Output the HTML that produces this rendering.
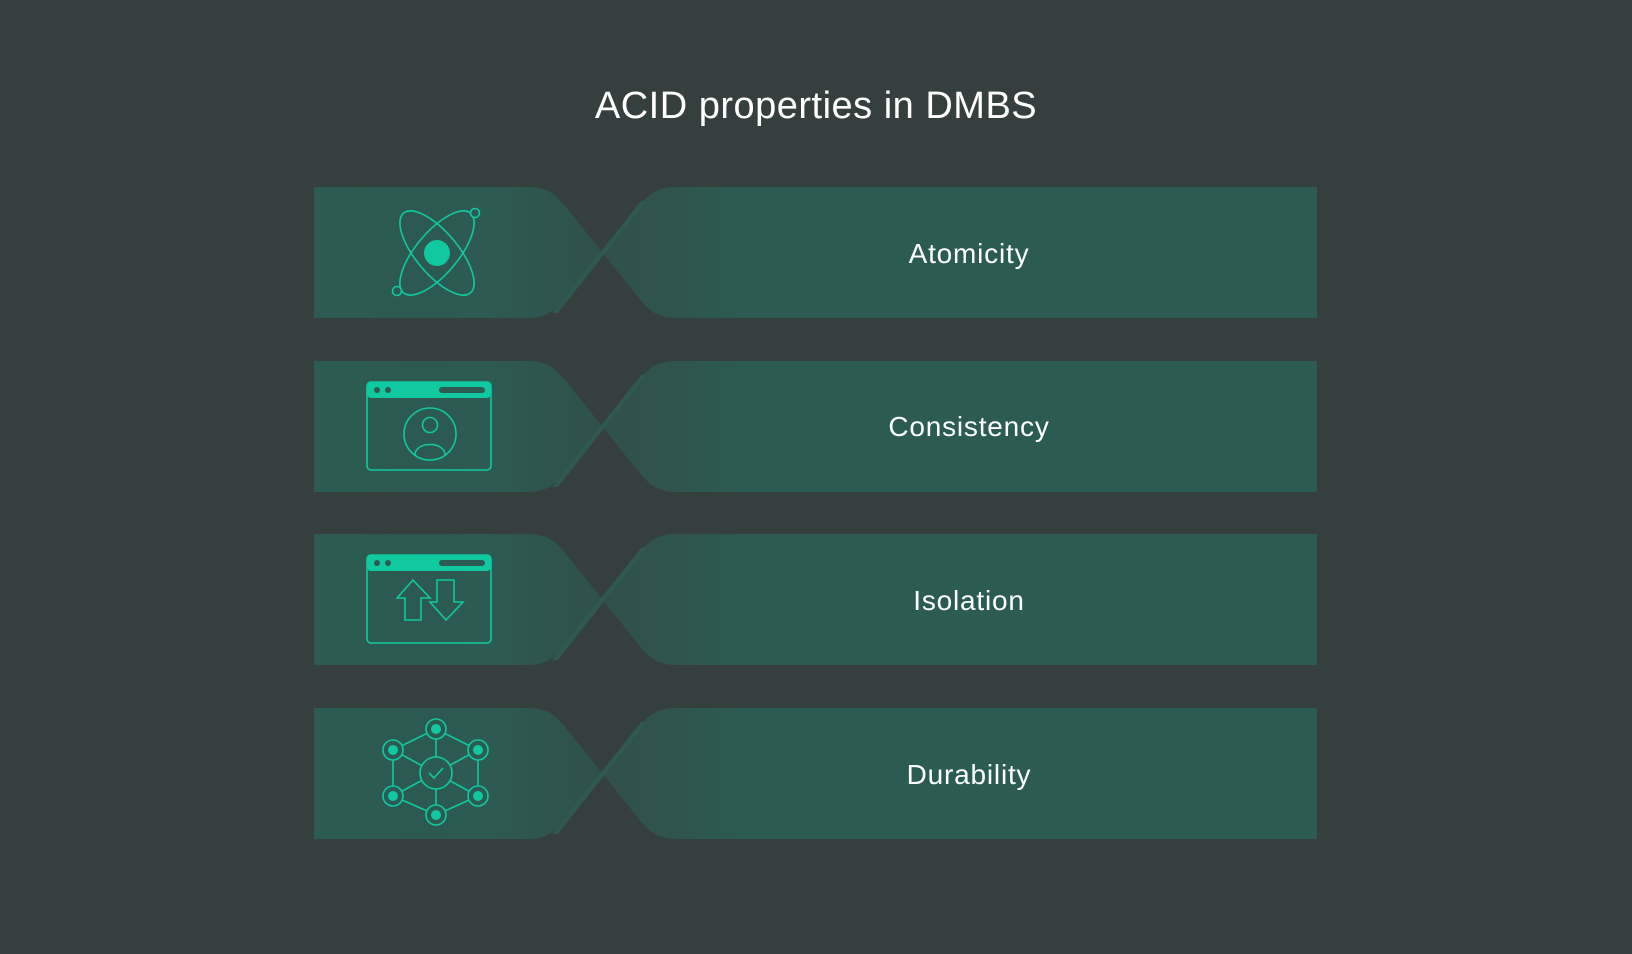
<!DOCTYPE html>
<html><head><meta charset="utf-8"><style>
html,body{margin:0;padding:0;background:#353f3d;}
svg{display:block}
text{font-family:"Liberation Sans",sans-serif;}
</style></head><body>
<svg width="1632" height="954" viewBox="0 0 1632 954" xmlns="http://www.w3.org/2000/svg">
<defs>
<linearGradient id="gl" x1="0" x2="1" y1="0" y2="0">
<stop offset="0" stop-color="#2b5b52"/><stop offset="0.6" stop-color="#2d5a52"/><stop offset="1" stop-color="#30504b"/>
</linearGradient>
<linearGradient id="gr" gradientUnits="userSpaceOnUse" x1="600" x2="740" y1="0" y2="0">
<stop offset="0" stop-color="#32504b"/><stop offset="0.55" stop-color="#2f554e"/><stop offset="1" stop-color="#2b5b52"/>
</linearGradient>
<g id="band">
<path d="M314,0 H528 C548,0 556,8 566,20 L602,65 L566,110 C556,122 548,131 528,131 H314 Z" fill="url(#gl)"/>
<path d="M602,65 L638,20 C648,8 656,0 676,0 H1317 V131 H676 C656,131 648,122 638,110 Z" fill="url(#gr)"/>
<path d="M552,126 L641,14 L646,14 L558,126 Z" fill="#2f5c53" opacity="0.85"/>
</g>
</defs>
<text x="816" y="118" font-size="38" fill="#ffffff" text-anchor="middle" letter-spacing="0.5">ACID properties in DMBS</text>

<use href="#band" y="187"/>
<use href="#band" y="361"/>
<use href="#band" y="534"/>
<use href="#band" y="708"/>

<g fill="#ffffff" font-size="28" text-anchor="middle" letter-spacing="0.8">
<text x="969" y="263">Atomicity</text>
<text x="969" y="436">Consistency</text>
<text x="969" y="610">Isolation</text>
<text x="969" y="784">Durability</text>
</g>

<g stroke="#10c9a0" stroke-width="1.6" fill="none">
<ellipse cx="437" cy="253" rx="52" ry="21" transform="rotate(50 437 253)"/>
<ellipse cx="437" cy="253" rx="52" ry="21" transform="rotate(-50 437 253)"/>
<circle cx="475" cy="213" r="4.5" fill="#2b5b52"/>
<circle cx="397" cy="291" r="4.5" fill="#2b5b52"/>
<rect x="367" y="382" width="124" height="88" rx="4"/>
<circle cx="430" cy="434" r="26"/>
<circle cx="430" cy="425" r="7.5"/>
<path d="M415,455 C415,441 445,441 445,455"/>
<rect x="367" y="555" width="124" height="88" rx="4"/>
<path d="M397,598 L413,580 L430,598 H421 V620 H405 V598 Z"/>
<path d="M437,580 H454 V602 H463 L446,620 L430,602 H437 Z"/>
<path d="M436,729 L393,750 L393,796 L436,815 L478,796 L478,750 Z"/>
<path d="M436,729 V815 M393,750 L478,796 M478,750 L393,796"/>
<circle cx="436" cy="773" r="16" fill="#2b5b52"/>
<path d="M429,773 L434,778 L443,768"/>
</g>
<g fill="#10c9a0">
<circle cx="437" cy="253" r="13"/>
<rect x="367" y="382" width="124" height="16" rx="4"/>
<rect x="367" y="555" width="124" height="16" rx="4"/>
</g>
<g fill="#2b5b52">
<circle cx="377" cy="390" r="3"/><circle cx="388" cy="390" r="3"/>
<rect x="439" y="387" width="46" height="6" rx="3"/>
<circle cx="377" cy="563" r="3"/><circle cx="388" cy="563" r="3"/>
<rect x="439" y="560" width="46" height="6" rx="3"/>
</g>
<g stroke="#10c9a0" stroke-width="1.6" fill="#2b5b52">
<circle cx="436" cy="729" r="10"/><circle cx="436" cy="815" r="10"/>
<circle cx="393" cy="750" r="10"/><circle cx="393" cy="796" r="10"/>
<circle cx="478" cy="750" r="10"/><circle cx="478" cy="796" r="10"/>
</g>
<g fill="#10c9a0">
<circle cx="436" cy="729" r="5"/><circle cx="436" cy="815" r="5"/>
<circle cx="393" cy="750" r="5"/><circle cx="393" cy="796" r="5"/>
<circle cx="478" cy="750" r="5"/><circle cx="478" cy="796" r="5"/>
</g>
</svg>
</body></html>
